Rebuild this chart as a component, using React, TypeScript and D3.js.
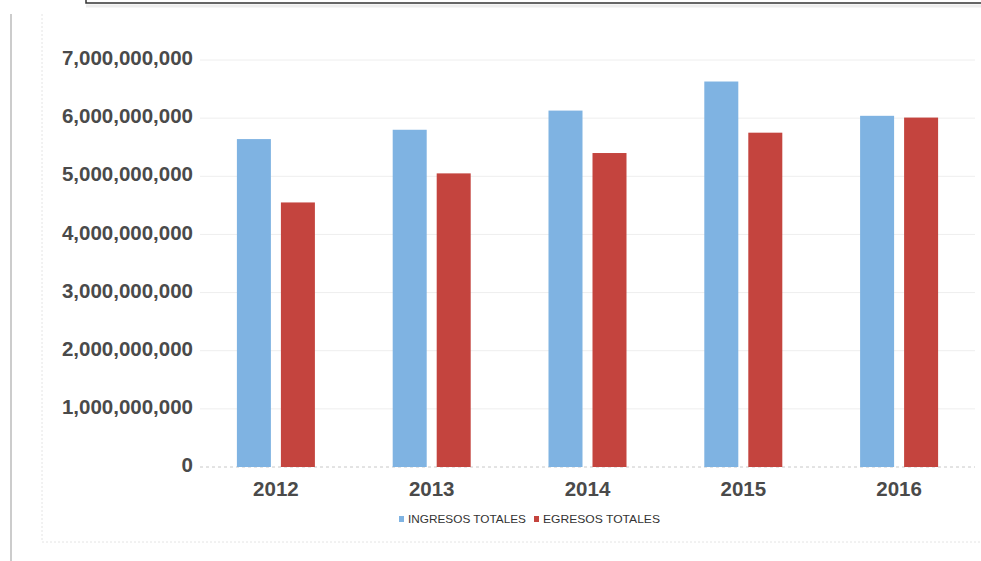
import { useEffect, useRef } from 'react'
import * as d3 from 'd3'

const years = ['2012', '2013', '2014', '2015', '2016']
const seriesNames = ['INGRESOS TOTALES', 'EGRESOS TOTALES']
const ingresos = [5.64e9, 5.8e9, 6.13e9, 6.63e9, 6.04e9]
const egresos = [4.55e9, 5.05e9, 5.4e9, 5.75e9, 6.01e9]
const yTicks = [0, 1e9, 2e9, 3e9, 4e9, 5e9, 6e9, 7e9]
const colors = ['#7fb3e2', '#c4443e']

export default function App() {
  const svgRef = useRef<SVGSVGElement>(null)

  useEffect(() => {
    const svg = d3.select(svgRef.current)
    svg.selectAll('*').remove()

    const W = 981
    const H = 561

    svg.attr('width', W).attr('height', H)

    // frame bits around the chart
    svg.append('rect').attr('width', W).attr('height', H).attr('fill', '#fff')
    svg.append('rect')
      .attr('x', 86).attr('y', -10).attr('width', 920).attr('height', 13)
      .attr('fill', '#fff').attr('stroke', '#333').attr('stroke-width', 1.5)
    svg.append('line')
      .attr('x1', 86).attr('x2', W).attr('y1', 6).attr('y2', 6)
      .attr('stroke', '#ddd').attr('stroke-width', 3).attr('opacity', 0.5)
    svg.append('line')
      .attr('x1', 11).attr('x2', 11).attr('y1', 14).attr('y2', H)
      .attr('stroke', '#ccc').attr('stroke-width', 2)
    svg.append('path')
      .attr('d', `M42,14V542H${W}`)
      .attr('fill', 'none').attr('stroke', '#e4e4e4').attr('stroke-dasharray', '2,2')

    const y = d3.scaleLinear().domain([0, 7e9]).range([467, 60])
    const x0 = d3.scaleBand<string>().domain(years).range([198, 977]).padding(0)
    const bw = x0.bandwidth()
    const x1 = d3.scaleBand<string>()
      .domain(seriesNames)
      .range([bw / 2 - 39, bw / 2 + 39])
      .paddingInner(0.2273)

    const g = svg.append('g')

    // grid
    g.selectAll('.grid')
      .data(yTicks)
      .enter()
      .append('line')
      .attr('x1', 200).attr('x2', 975)
      .attr('y1', (d) => y(d)).attr('y2', (d) => y(d))
      .attr('stroke', (d) => (d === 0 ? '#c8c8c8' : '#eeeeee'))
      .attr('stroke-dasharray', (d) => (d === 0 ? '3,3' : null))
      .attr('stroke-width', 1)

    // y labels
    const fmt = d3.format(',')
    g.selectAll('.ylab')
      .data(yTicks)
      .enter()
      .append('text')
      .attr('x', 193)
      .attr('y', (d) => y(d) - 2)
      .attr('dy', '0.35em')
      .attr('text-anchor', 'end')
      .attr('fill', '#4a4a4a')
      .style('font-family', 'Liberation Sans, Arial, sans-serif')
      .style('font-size', '20.5px')
      .style('font-weight', 'bold')
      .text((d) => fmt(d))

    // x labels
    g.selectAll('.xlab')
      .data(years)
      .enter()
      .append('text')
      .attr('x', (d) => (x0(d) ?? 0) + bw / 2)
      .attr('y', 489)
      .attr('dy', '0.35em')
      .attr('text-anchor', 'middle')
      .attr('fill', '#4a4a4a')
      .style('font-family', 'Liberation Sans, Arial, sans-serif')
      .style('font-size', '20.5px')
      .style('font-weight', 'bold')
      .text((d) => d)

    // bars
    const allValues = [ingresos, egresos]
    seriesNames.forEach((s, si) => {
      g.selectAll(`.bar-${si}`)
        .data(years)
        .enter()
        .append('rect')
        .attr('x', (d) => (x0(d) ?? 0) + (x1(s) ?? 0))
        .attr('y', (_, i) => y(allValues[si][i]))
        .attr('width', x1.bandwidth())
        .attr('height', (_, i) => y(0) - y(allValues[si][i]))
        .attr('fill', colors[si])
    })

    // legend
    const legendX = [399, 534]
    const legendW = [118, 117]
    seriesNames.forEach((s, si) => {
      svg.append('rect')
        .attr('x', legendX[si]).attr('y', 516)
        .attr('width', 5).attr('height', 6)
        .attr('fill', colors[si])
      svg.append('text')
        .attr('x', legendX[si] + 9).attr('y', 519)
        .attr('dy', '0.35em')
        .attr('fill', '#333')
        .attr('textLength', legendW[si])
        .attr('lengthAdjust', 'spacingAndGlyphs')
        .style('font-family', 'Liberation Sans, Arial, sans-serif')
        .style('font-size', '11px')
        .text(s)
    })
  }, [])

  return (
    <svg ref={svgRef} style={{ position: 'absolute', left: 0, top: 0 }} />
  )
}
